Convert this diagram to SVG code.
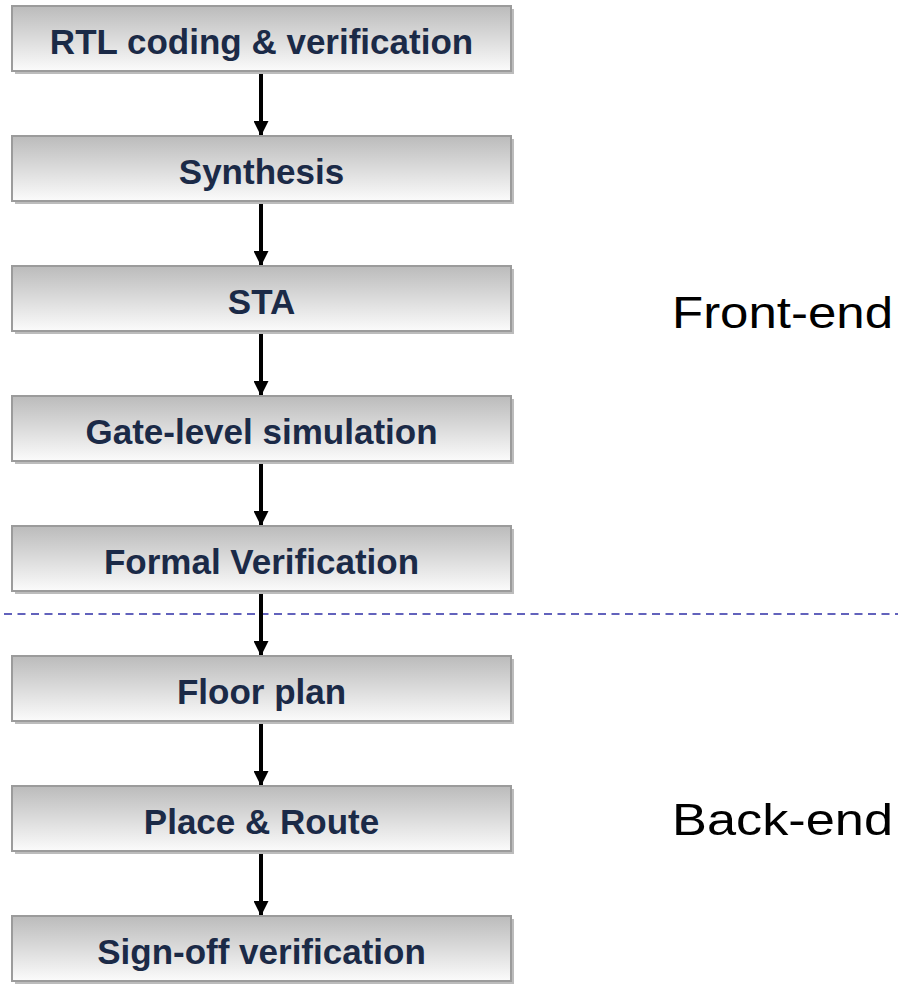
<svg xmlns="http://www.w3.org/2000/svg" width="898" height="984" viewBox="0 0 898 984">
  <defs>
    <linearGradient id="boxFill" x1="0" y1="0" x2="0" y2="1">
      <stop offset="0" stop-color="#bbbbbb"/>
      <stop offset="1" stop-color="#fbfbfb"/>
    </linearGradient>
    <marker id="arrowHead" markerUnits="userSpaceOnUse" markerWidth="16" markerHeight="15" refX="15" refY="7.5" orient="auto">
      <path d="M0,0 L15,7.5 L0,15 Z" fill="#000"/>
    </marker>
    <style>
      .shadow { fill: #bcbcbc; }
      .box { fill: url(#boxFill); stroke: #9b9b9b; stroke-width: 2; }
      .label { font-family: "Liberation Sans", Arial, sans-serif; font-weight: bold; font-size: 35px; fill: #1b2a47; text-anchor: middle; }
      .side { font-family: "Liberation Sans", Arial, sans-serif; font-size: 45px; fill: #000; }
      .flow { stroke: #000; stroke-width: 4; fill: none; marker-end: url(#arrowHead); }
      .divider { stroke: #2f2fa6; stroke-width: 1.6; stroke-dasharray: 8 5.5; fill: none; }
    </style>
  </defs>

  <!-- front-end / back-end divider -->
  <line class="divider" x1="4" y1="614" x2="898" y2="614"/>

  <!-- connectors -->
  <g id="connectors">
    <line class="flow" x1="261" y1="72" x2="261" y2="136"/>
    <line class="flow" x1="261" y1="202" x2="261" y2="266"/>
    <line class="flow" x1="261" y1="332" x2="261" y2="396"/>
    <line class="flow" x1="261" y1="462" x2="261" y2="526"/>
    <line class="flow" x1="261" y1="592" x2="261" y2="656"/>
    <line class="flow" x1="261" y1="722" x2="261" y2="786"/>
    <line class="flow" x1="261" y1="852" x2="261" y2="916"/>
  </g>

  <g id="rtl">
    <rect class="shadow" x="15" y="9" width="499" height="65"/>
    <rect class="box" x="12" y="6" width="499" height="65"/>
    <text class="label" x="261.5" y="54">RTL coding &amp; verification</text>
  </g>
  <g id="synthesis">
    <rect class="shadow" x="15" y="139" width="499" height="65"/>
    <rect class="box" x="12" y="136" width="499" height="65"/>
    <text class="label" x="261.5" y="184">Synthesis</text>
  </g>
  <g id="sta">
    <rect class="shadow" x="15" y="269" width="499" height="65"/>
    <rect class="box" x="12" y="266" width="499" height="65"/>
    <text class="label" x="261.5" y="314">STA</text>
  </g>
  <g id="gate-sim">
    <rect class="shadow" x="15" y="399" width="499" height="65"/>
    <rect class="box" x="12" y="396" width="499" height="65"/>
    <text class="label" x="261.5" y="444">Gate-level simulation</text>
  </g>
  <g id="formal">
    <rect class="shadow" x="15" y="529" width="499" height="65"/>
    <rect class="box" x="12" y="526" width="499" height="65"/>
    <text class="label" x="261.5" y="574">Formal Verification</text>
  </g>
  <g id="floorplan">
    <rect class="shadow" x="15" y="659" width="499" height="65"/>
    <rect class="box" x="12" y="656" width="499" height="65"/>
    <text class="label" x="261.5" y="704">Floor plan</text>
  </g>
  <g id="place-route">
    <rect class="shadow" x="15" y="789" width="499" height="65"/>
    <rect class="box" x="12" y="786" width="499" height="65"/>
    <text class="label" x="261.5" y="834">Place &amp; Route</text>
  </g>
  <g id="signoff">
    <rect class="shadow" x="15" y="919" width="499" height="65"/>
    <rect class="box" x="12" y="916" width="499" height="65"/>
    <text class="label" x="261.5" y="964">Sign-off verification</text>
  </g>

  <g id="phase-labels">
    <text class="side" x="672" y="328" textLength="221" lengthAdjust="spacingAndGlyphs">Front-end</text>
    <text class="side" x="672" y="835" textLength="221" lengthAdjust="spacingAndGlyphs">Back-end</text>
  </g>
</svg>
